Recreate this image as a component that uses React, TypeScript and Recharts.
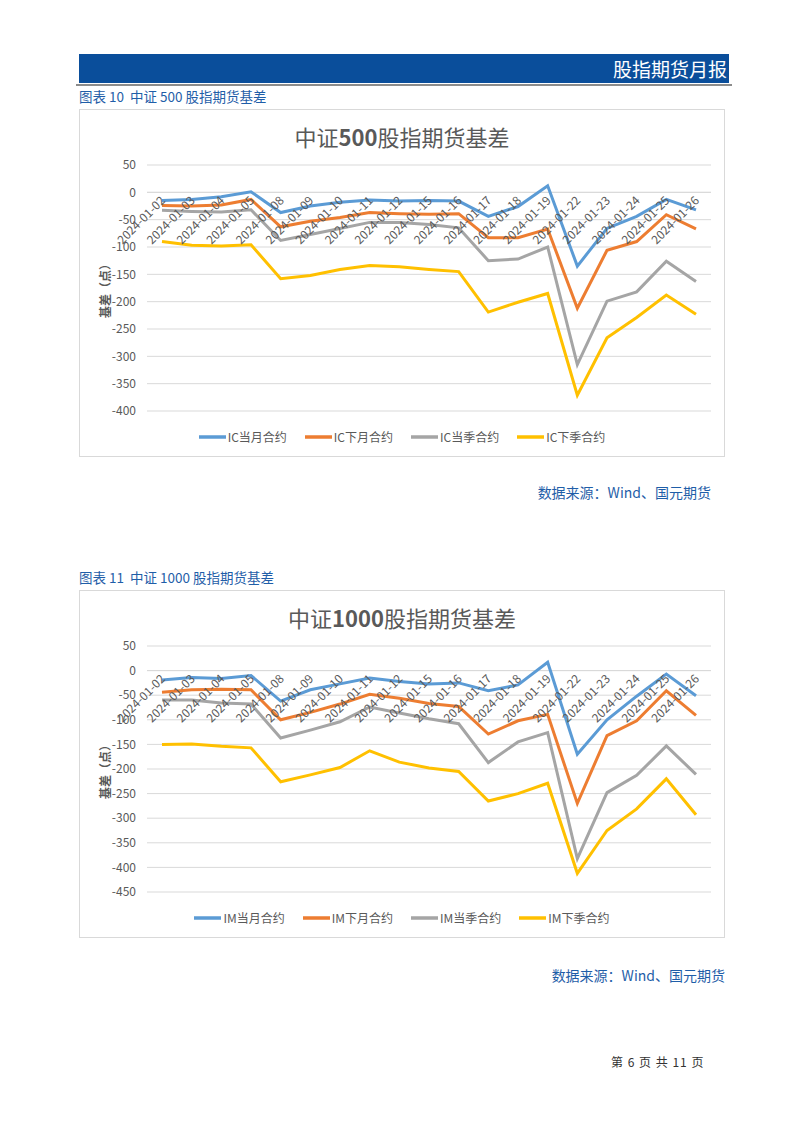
import React from 'react';
import { LineChart, Line, XAxis, YAxis, CartesianGrid, ReferenceLine, LabelList } from 'recharts';

// trading days on the category axis
const dates = [
  '2024-01-02', '2024-01-03', '2024-01-04', '2024-01-05', '2024-01-08',
  '2024-01-09', '2024-01-10', '2024-01-11', '2024-01-12', '2024-01-15',
  '2024-01-16', '2024-01-17', '2024-01-18', '2024-01-19', '2024-01-22',
  '2024-01-23', '2024-01-24', '2024-01-25', '2024-01-26',
];

// 中证500 (IC) basis, points
const icCurrentMonth = [-15, -13, -8, 1, -37, -25, -18, -14, -16, -15, -16, -44, -26, 12, -135, -66, -44, -13, -32];
const icNextMonth = [-24, -25, -23, -13, -63, -53, -46, -37, -39, -40, -39, -83, -83, -67, -212, -106, -90, -41, -67];
const icCurrentQuarter = [-33, -35, -36, -32, -88, -77, -66, -55, -55, -59, -65, -125, -122, -100, -315, -199, -182, -126, -163];
const icNextQuarter = [-90, -97, -98, -96, -158, -152, -141, -134, -136, -141, -145, -219, -201, -185, -371, -266, -229, -188, -223];

// 中证1000 (IM) basis, points
const imCurrentMonth = [-19, -14, -16, -10, -62, -39, -27, -15, -22, -27, -25, -41, -29, 17, -170, -100, -52, -7, -51];
const imNextMonth = [-44, -39, -38, -39, -100, -85, -68, -48, -56, -67, -73, -129, -102, -89, -270, -132, -102, -41, -91];
const imCurrentQuarter = [-60, -60, -66, -68, -137, -121, -104, -74, -86, -98, -108, -187, -145, -126, -382, -248, -213, -153, -211];
const imNextQuarter = [-150, -149, -154, -157, -226, -212, -197, -163, -186, -198, -205, -265, -250, -229, -412, -325, -281, -220, -293];

const icTicks = [50, 0, -50, -100, -150, -200, -250, -300, -350, -400];
const imTicks = [50, 0, -50, -100, -150, -200, -250, -300, -350, -400, -450];

const COLORS = ['#5B9BD5', '#ED7D31', '#A5A5A5', '#FFC000'];
const FONT = '"Noto Sans CJK SC", "Noto Sans", sans-serif';
const BLUE_TEXT = '#1f5ea8';

interface SeriesDef {
  name: string;
  values: number[];
}

const buildRows = (series: SeriesDef[]) =>
  dates.map((d, i) => {
    const row: any = { date: d, zero: 0 };
    series.forEach((s, k) => {
      row[`s${k}`] = s.values[i];
    });
    return row;
  });

const CategoryLabel = (props: any) => {
  const { x, y, value } = props;
  const tx = x + 4;
  const ty = y + 9;
  return (
    <text
      x={tx}
      y={ty}
      transform={`rotate(-45 ${tx} ${ty})`}
      textAnchor="end"
      fontSize={12}
      fontFamily={FONT}
      fill="#595959"
    >
      {value}
    </text>
  );
};

function BasisChart({
  title,
  digits,
  series,
  ticks,
}: {
  title: string;
  digits: string;
  series: SeriesDef[];
  ticks: number[];
}) {
  const data = buildRows(series);
  const [pre, post] = title.split(digits);

  return (
    <div
      style={{
        position: 'relative',
        width: 646,
        height: 348,
        boxSizing: 'border-box',
        border: '1px solid #d9d9d9',
        background: '#fff',
      }}
    >
      <div
        style={{
          position: 'absolute',
          top: 11,
          left: 0,
          width: '100%',
          textAlign: 'center',
          fontFamily: FONT,
          fontSize: 22,
          color: '#595959',
          lineHeight: '30px',
        }}
      >
        {pre}
        <b>{digits}</b>
        {post}
      </div>
      <LineChart
        width={644}
        height={346}
        data={data}
        margin={{ top: 55, right: 13, bottom: 45, left: 0 }}
      >
        <CartesianGrid vertical={false} stroke="#d9d9d9" />
        <XAxis dataKey="date" hide padding={{ left: 15, right: 15 }} />
        <YAxis
          width={67}
          domain={[ticks[ticks.length - 1], ticks[0]]}
          ticks={ticks}
          interval={0}
          axisLine={false}
          tickLine={false}
          tickMargin={5}
          tick={{ fontSize: 12, fill: '#595959', fontFamily: FONT }}
          label={{
            content: (p: any) => {
              const vb = p.viewBox;
              const lx = vb.x + 24;
              const ly = vb.y + vb.height / 2;
              return (
                <text
                  x={lx}
                  y={ly}
                  transform={`rotate(-90 ${lx} ${ly})`}
                  textAnchor="middle"
                  dominantBaseline="central"
                  fontSize={12}
                  fontWeight={700}
                  fontFamily={FONT}
                  fill="#595959"
                >
                  基差（点）
                </text>
              );
            },
          }}
        />
        <ReferenceLine y={0} stroke="#d9d9d9" />
        <Line dataKey="zero" stroke="none" dot={false} activeDot={false} isAnimationActive={false}>
          <LabelList dataKey="date" content={CategoryLabel} />
        </Line>
        {series.map((s, k) => (
          <Line
            key={s.name}
            dataKey={`s${k}`}
            name={s.name}
            stroke={COLORS[k]}
            strokeWidth={3}
            dot={false}
            activeDot={false}
            isAnimationActive={false}
          />
        ))}
      </LineChart>
      <div
        style={{
          position: 'absolute',
          left: 0,
          width: '100%',
          top: 318,
          display: 'flex',
          justifyContent: 'center',
          gap: 18,
          fontFamily: FONT,
          fontSize: 12,
          color: '#595959',
        }}
      >
        {series.map((s, k) => (
          <div key={s.name} style={{ display: 'flex', alignItems: 'center' }}>
            <svg width={27} height={6} style={{ marginRight: 2 }}>
              <line x1={0} y1={3} x2={27} y2={3} stroke={COLORS[k]} strokeWidth={3.5} />
            </svg>
            <span>{s.name}</span>
          </div>
        ))}
      </div>
    </div>
  );
}

export default function App() {
  const icSeries: SeriesDef[] = [
    { name: 'IC当月合约', values: icCurrentMonth },
    { name: 'IC下月合约', values: icNextMonth },
    { name: 'IC当季合约', values: icCurrentQuarter },
    { name: 'IC下季合约', values: icNextQuarter },
  ];
  const imSeries: SeriesDef[] = [
    { name: 'IM当月合约', values: imCurrentMonth },
    { name: 'IM下月合约', values: imNextMonth },
    { name: 'IM当季合约', values: imCurrentQuarter },
    { name: 'IM下季合约', values: imNextQuarter },
  ];

  const caption: React.CSSProperties = {
    position: 'absolute',
    left: 78,
    fontFamily: FONT,
    fontSize: 13.5,
    color: BLUE_TEXT,
    lineHeight: '18px',
    whiteSpace: 'pre',
  };
  const source: React.CSSProperties = {
    position: 'absolute',
    fontFamily: FONT,
    fontSize: 14,
    color: BLUE_TEXT,
    lineHeight: '18px',
  };

  return (
    <div
      style={{
        position: 'relative',
        width: 802,
        height: 1133,
        margin: -8,
        boxSizing: 'border-box',
        borderLeft: '1px solid #8c8c8c',
        borderBottom: '1px solid #8c8c8c',
        background: '#fff',
        fontFamily: FONT,
      }}
    >
      <div
        style={{
          position: 'absolute',
          left: 78,
          top: 54,
          width: 650,
          height: 29,
          background: '#0a4e9b',
          color: '#fff',
          fontSize: 19,
          lineHeight: '29px',
          textAlign: 'right',
          paddingRight: 2,
          boxSizing: 'border-box',
        }}
      >
        股指期货月报
      </div>
      <div style={{ position: 'absolute', left: 75, top: 84, width: 656, height: 2, background: '#8c8c8c' }} />

      <div style={{ ...caption, top: 87 }}>{'图表 10  中证 500 股指期货基差'}</div>
      <div style={{ position: 'absolute', left: 78, top: 109 }}>
        <BasisChart title="中证500股指期货基差" digits="500" series={icSeries} ticks={icTicks} />
      </div>
      <div style={{ ...source, right: 91, top: 483 }}>数据来源：Wind、国元期货</div>

      <div style={{ ...caption, top: 568 }}>{'图表 11  中证 1000 股指期货基差'}</div>
      <div style={{ position: 'absolute', left: 78, top: 590 }}>
        <BasisChart title="中证1000股指期货基差" digits="1000" series={imSeries} ticks={imTicks} />
      </div>
      <div style={{ ...source, right: 77, top: 966 }}>数据来源：Wind、国元期货</div>

      <div
        style={{
          position: 'absolute',
          left: 610,
          top: 1053,
          fontSize: 12,
          color: '#333',
          lineHeight: '17px',
          letterSpacing: 1,
        }}
      >
        第 6 页 共 11 页
      </div>
    </div>
  );
}
